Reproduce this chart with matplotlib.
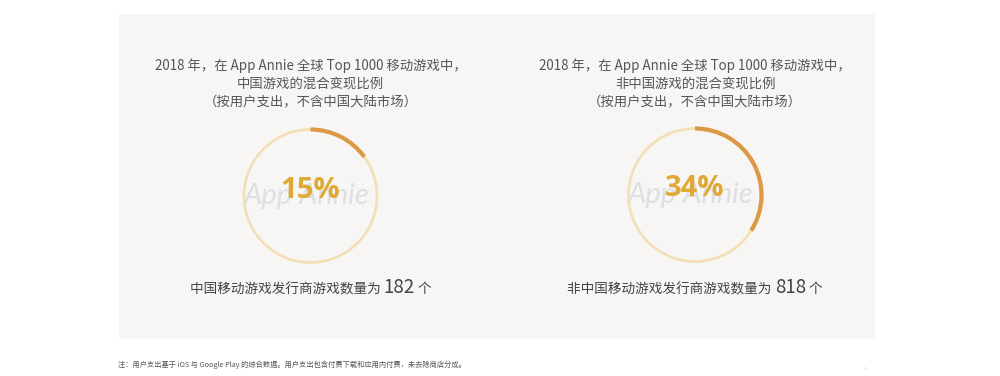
import matplotlib
matplotlib.use("Agg")
import matplotlib.pyplot as plt
from matplotlib.patches import Rectangle

plt.rcParams['font.family'] = ['Noto Sans CJK SC', 'DejaVu Sans']

# ---- data ----
titles = [
    "2018 年，在 App Annie 全球 Top 1000 移动游戏中，\n中国游戏的混合变现比例\n（按用户支出，不含中国大陆市场）",
    "2018 年，在 App Annie 全球 Top 1000 移动游戏中，\n非中国游戏的混合变现比例\n（按用户支出，不含中国大陆市场）",
]
shares = [15, 34]
count_labels = ["中国移动游戏发行商游戏数量为 ", "非中国移动游戏发行商游戏数量为 "]
counts = [182, 818]
count_unit = " 个"
note = "注：用户支出基于 iOS 与 Google Play 的综合数据。用户支出包含付费下载和应用内付费，未去除商店分成。"

W, H = 1000, 376
fig = plt.figure(figsize=(W / 100, H / 100), dpi=100)
fig.patch.set_facecolor("white")

# background axes in pixel coordinates
bg = fig.add_axes([0, 0, 1, 1])
bg.set_xlim(0, W)
bg.set_ylim(H, 0)
bg.axis("off")
bg.add_patch(Rectangle((119, 14), 756, 325, facecolor="#f7f6f4", edgecolor="none", zorder=0))

TRACK = "#f2dfb4"
ARC = "#db9944"
PCT = "#e0a935"
WM = "#dcdfe4"
TXT = "#555555"

centers = [(310.5, 196), (695, 195)]
R = 66.5
half = 90.0

def fx(x):
    return x / W

def fy(y):
    return 1 - y / H

for i, (cx, cy) in enumerate(centers):
    ax = fig.add_axes([fx(cx - half), fy(cy + half), 2 * half / W, 2 * half / H])
    ax.set_facecolor("none")
    # watermark
    ax.text(-4, 0, "App Annie", ha="center", va="center", fontsize=21,
            style="italic", family="Lato", color=WM, zorder=0)
    # track ring
    tw = 2.6
    ax.pie([100], radius=R + tw / 2, colors=[TRACK],
           wedgeprops=dict(width=tw, edgecolor="none"), startangle=90)
    # progress arc
    aw = 4.2
    ax.pie([shares[i], 100 - shares[i]], radius=R + aw / 2, colors=[ARC, "none"],
           wedgeprops=dict(width=aw, edgecolor="none"), startangle=90, counterclock=False)
    ax.set_xlim(-half, half)
    ax.set_ylim(-half, half)
    ax.set_aspect("equal")
    ax.axis("off")
    ax.text(0, 6, f"{shares[i]}%", ha="center", va="center", fontsize=21,
            fontweight="bold", family=["Open Sans", "DejaVu Sans"], color=PCT, zorder=5)

    # title
    fig.text(fx(cx), fy(58.5), titles[i], ha="center", va="top", fontsize=9.6,
             color=TXT, linespacing=1.33)

# bottom count lines (mixed sizes), centered
fig.canvas.draw()
r = fig.canvas.get_renderer()
for i, (cx, cy) in enumerate(centers):
    parts = [
        fig.text(0, fy(293), count_labels[i], fontsize=9.8, color="#444444",
                 fontweight="medium", va="baseline", ha="left"),
        fig.text(0, fy(293), str(counts[i]), fontsize=13.5, color="#444444",
                 fontweight="light", va="baseline", ha="left"),
        fig.text(0, fy(293), count_unit, fontsize=9.8, color="#444444",
                 va="baseline", ha="left"),
    ]
    widths = [p.get_window_extent(r).width for p in parts]
    total = sum(widths)
    x = cx - total / 2
    for p, w in zip(parts, widths):
        p.set_x(fx(x))
        x += w

fig.text(fx(118), fy(365), note, fontsize=5.2, color="#555555", va="center", ha="left")
fig.text(fx(866), fy(369), "36", fontsize=2.5, color="#cccccc", va="center", ha="center")

fig.savefig("out.png", dpi=100, facecolor="white")
